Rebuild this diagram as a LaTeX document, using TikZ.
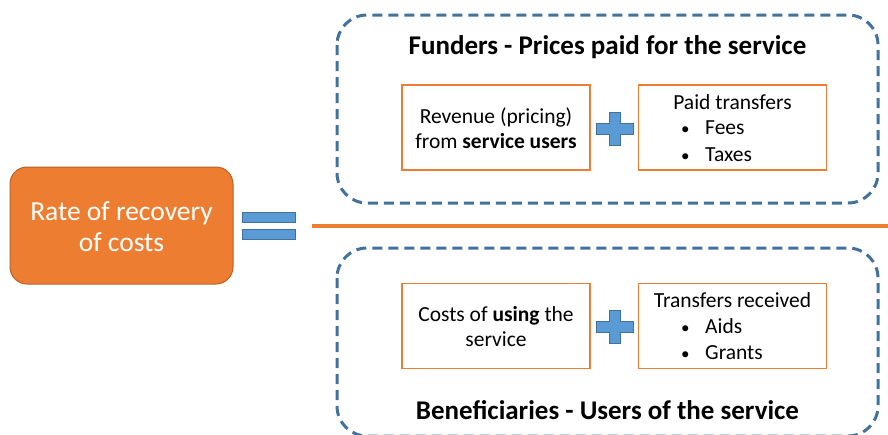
\documentclass[tikz,border=0pt]{standalone}
\usepackage{fontspec}
\setmainfont{Carlito}
\definecolor{borange}{HTML}{ED7D31}
\definecolor{borangedark}{HTML}{B8612A}
\definecolor{bblue}{HTML}{5B9BD5}
\definecolor{bbluedark}{HTML}{41719C}
\definecolor{dashblue}{HTML}{41719C}
\newcommand{\bul}[1]{\makebox[24pt][l]{\fontsize{17}{17}\selectfont •}#1}
\begin{document}
\begin{tikzpicture}[x=1pt,y=-1pt,
  dashbox/.style={draw=dashblue,line width=3pt,dash pattern=on 10pt off 6pt,rounded corners=30pt},
  itembox/.style={draw=borange,line width=1.5pt,minimum width=188pt,minimum height=85pt,inner sep=0pt},
  bluesym/.style={fill=bblue,draw=bbluedark,line width=0.8pt},
  txt/.style={font=\fontsize{21.5}{25}\selectfont,inner sep=0pt,anchor=base},
  title/.style={font=\fontsize{27}{30}\selectfont\bfseries,inner sep=0pt,anchor=base}]
\useasboundingbox (0,0) rectangle (888,434);
% main orange box
\node[fill=borange,draw=borangedark,line width=1pt,rounded corners=17pt,minimum width=223pt,minimum height=117pt,inner sep=0pt] (rate) at (121.5,225.5) {};
\node[font=\fontsize{27.5}{31}\selectfont,text=white,align=center,inner sep=0pt] (ratetxt) at (121.5,227) {Rate of recovery\\of costs};
% equals sign
\path[bluesym] (242,212) rectangle (295,222);
\path[bluesym] (242,229) rectangle (295,239);
% orange separator
\coordinate (sepL) at (312,226);
\coordinate (sepR) at (888,226);
\draw[borange,line width=3.5pt] (sepL) -- (sepR);
% top dashed box
\draw[dashbox] (337,15) rectangle (878,203);
\node[title] (ttop) at (607.5,54) {Funders - Prices paid for the service};
\node[itembox] (rev) at (496,127.5) {};
\node[itembox] (paid) at (732.5,127.5) {};
\node[txt] (rev1) at (496,123.5) {Revenue (pricing)};
\node[txt] (rev2) at (496,148.5) {from \textbf{service users}};
\node[txt] (paid1) at (732.5,109.5) {Paid transfers};
\node[txt,anchor=base west] (paid2) at (681,134.5) {\bul{Fees}};
\node[txt,anchor=base west] (paid3) at (681,161.5) {\bul{Taxes}};
% plus top
\path[bluesym] (609.5,112) -- (620,112) -- (620,123) -- (633,123) -- (633,134) -- (620,134) -- (620,145) -- (609.5,145) -- (609.5,134) -- (596,134) -- (596,123) -- (609.5,123) -- cycle;
% bottom dashed box
\draw[dashbox] (337,248) rectangle (878,436);
\node[title] (tbot) at (607.5,419) {Beneficiaries - Users of the service};
\node[itembox] (cost) at (496,326) {};
\node[itembox] (recv) at (732.5,326) {};
\node[txt] (cost1) at (496,321.5) {Costs of \textbf{using} the};
\node[txt] (cost2) at (496,346.5) {service};
\node[txt] (recv1) at (732.5,307.5) {Transfers received};
\node[txt,anchor=base west] (recv2) at (681,333.5) {\bul{Aids}};
\node[txt,anchor=base west] (recv3) at (681,359.5) {\bul{Grants}};
% plus bottom
\path[bluesym] (609.5,310) -- (620,310) -- (620,321) -- (633,321) -- (633,332) -- (620,332) -- (620,343) -- (609.5,343) -- (609.5,332) -- (596,332) -- (596,321) -- (609.5,321) -- cycle;
\end{tikzpicture}
\end{document}
